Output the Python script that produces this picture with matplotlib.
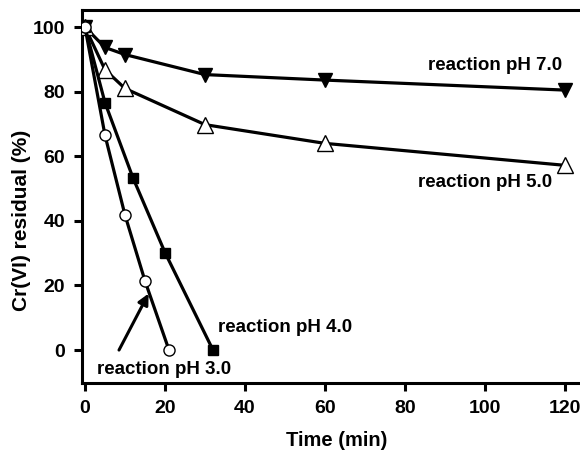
import matplotlib.pyplot as plt
import matplotlib as mpl

mpl.rcParams["font.family"] = ["Liberation Sans", "DejaVu Sans"]
mpl.rcParams["font.weight"] = "bold"

# Cr(VI) residual (%) vs time (min) at different reaction pH
t_ph7 = [0, 5, 10, 30, 60, 120]
cr_ph7 = [100, 93.7, 91.5, 85.3, 83.6, 80.5]

t_ph5 = [0, 5, 10, 30, 60, 120]
cr_ph5 = [100, 86.8, 81.0, 69.8, 64.0, 57.2]

t_ph4 = [0, 5, 12, 20, 32]
cr_ph4 = [100, 76.6, 53.3, 30.2, 0]

t_ph3 = [0, 5, 10, 15, 21]
cr_ph3 = [100, 66.5, 41.8, 21.4, 0]

xticks = [0, 20, 40, 60, 80, 100, 120]
yticks = [0, 20, 40, 60, 80, 100]

fig = plt.figure(figsize=(5.8, 4.51), dpi=100)
ax = fig.add_axes([82 / 580, 1 - 383 / 451, (600 - 82) / 580, (383 - 10) / 451])

lw = 2.3
ax.plot(t_ph7, cr_ph7, color="black", lw=lw, marker="v", ms=10.5,
        mfc="black", mec="black", zorder=3)
ax.plot(t_ph5, cr_ph5, color="black", lw=lw, marker="^", ms=11,
        mfc="white", mec="black", mew=1.0, zorder=3)
ax.plot(t_ph4, cr_ph4, color="black", lw=lw, marker="s", ms=7.5,
        mfc="black", mec="black", zorder=4)
ax.plot(t_ph3, cr_ph3, color="black", lw=lw, marker="o", ms=8,
        mfc="white", mec="black", mew=1.0, zorder=5)

ax.set_xlim(-0.75, (600 - 85) / 4)
ax.set_ylim(-10.2, 105.3)
ax.set_xticks(xticks)
ax.set_yticks(yticks)

for side in ["left", "bottom", "top"]:
    ax.spines[side].set_linewidth(2.2)
ax.spines["right"].set_visible(False)
ax.tick_params(direction="out", length=6, width=2.2, labelsize=14, pad=6)
for lab in ax.get_xticklabels() + ax.get_yticklabels():
    lab.set_fontweight("bold")

ax.set_xlabel("Time (min)", fontsize=14.5, fontweight="bold")
ax.set_ylabel("Cr(VI) residual (%)", fontsize=15, fontweight="bold")
ax.xaxis.label.set_va("center")
ax.yaxis.label.set_va("center")
ax.xaxis.set_label_coords(0.491, -0.153)
ax.yaxis.set_label_coords(-0.116, 0.437)

fs = 13.5
ax.text(85.75, 88.2, "reaction pH 7.0", fontsize=fs, fontweight="bold",
        ha="left", va="center")
ax.text(83.2, 52.0, "reaction pH 5.0", fontsize=fs, fontweight="bold",
        ha="left", va="center")
ax.text(33.2, 7.1, "reaction pH 4.0", fontsize=fs, fontweight="bold",
        ha="left", va="center")
ax.text(2.9, -5.9, "reaction pH 3.0", fontsize=fs, fontweight="bold",
        ha="left", va="center")

ax.annotate("", xy=(15.9, 17.5), xytext=(8.5, 0),
            arrowprops=dict(arrowstyle="-|>", color="black", lw=2.2,
                            mutation_scale=16, shrinkA=0, shrinkB=0))

fig.savefig("out.png", dpi=100, facecolor="white")
